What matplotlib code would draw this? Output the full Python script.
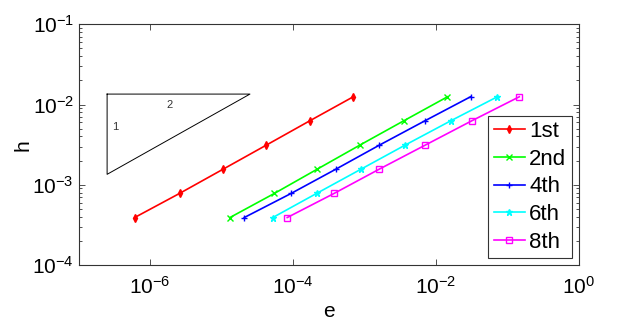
import numpy as np
import matplotlib
matplotlib.use("Agg")
import matplotlib.pyplot as plt
from matplotlib.ticker import LogLocator, FixedLocator, NullLocator, LogFormatterMathtext

plt.rcParams['font.family'] = ['Liberation Sans', 'DejaVu Sans']
plt.rcParams['mathtext.fontset'] = 'custom'
plt.rcParams['mathtext.rm'] = 'Liberation Sans'
plt.rcParams['mathtext.it'] = 'Liberation Sans'
plt.rcParams['mathtext.default'] = 'regular'

# grid spacing (same for every order)
h = [0.0125, 0.00625, 0.003125, 0.0015625, 0.00078125, 0.000390625]

# errors, largest h first
e_1st = [7.0e-4, 1.71e-4, 4.25e-5, 1.05e-5, 2.59e-6, 6.07e-7]
e_2nd = [1.46e-2, 3.54e-3, 8.67e-4, 2.18e-4, 5.51e-5, 1.31e-5]
e_4th = [3.07e-2, 7.0e-3, 1.63e-3, 3.98e-4, 9.46e-5, 2.08e-5]
e_6th = [7.29e-2, 1.61e-2, 3.73e-3, 8.95e-4, 2.15e-4, 5.22e-5]
e_8th = [1.48e-1, 3.17e-2, 7.14e-3, 1.61e-3, 3.78e-4, 8.32e-5]

labels = ['1st', '2nd', '4th', '6th', '8th']

# slope triangle
tri_e = [2.5e-7, 2.5e-5, 2.5e-7, 2.5e-7]
tri_h = [1.35e-2, 1.35e-2, 1.35e-3, 1.35e-2]

fig = plt.figure(figsize=(6.28, 3.24), dpi=100)
ax = fig.add_axes([0.1253, 0.182, 0.796, 0.743])

styles = [('#ff0000', 'd', 'full', 4), ('#00ff00', 'x', 'full', 4), ('#0000ff', '+', 'full', 5),
          ('#00ffff', '*', 'full', 5), ('#ff00ff', 's', 'none', 4.5)]
for e, lab, (c, m, fs, ms) in zip([e_1st, e_2nd, e_4th, e_6th, e_8th], labels, styles):
    ax.loglog(e, h, color=c, marker=m, markersize=ms, fillstyle=fs,
              markeredgewidth=1.0, linewidth=1.2, label=lab)

ax.plot(tri_e, tri_h, color='black', linewidth=0.7)
ax.text(1.87e-6, 9.9e-3, '2', fontsize=8, color='#333333', ha='center', va='center')
ax.text(3.3e-7, 5.2e-3, '1', fontsize=8, color='#333333', ha='center', va='center')

ax.set_xlim(1e-7, 1e0)
ax.set_ylim(1e-4, 1e-1)
ax.xaxis.set_major_locator(FixedLocator([1e-6, 1e-4, 1e-2, 1e0]))
ax.xaxis.set_minor_locator(NullLocator())
ax.xaxis.set_major_formatter(LogFormatterMathtext())
ax.yaxis.set_major_locator(LogLocator(base=10, numticks=10))
ax.yaxis.set_minor_locator(LogLocator(base=10, subs=np.arange(2, 10), numticks=10))

ax.tick_params(which='both', direction='in', top=True, right=True, labelsize=15, colors='#333333')
ax.tick_params(which='major', length=4, width=0.6)
ax.tick_params(which='minor', length=2.5, width=0.6)
ax.tick_params(axis='x', pad=8)
for tl in ax.get_xticklabels() + ax.get_yticklabels():
    tl.set_color('black')
for s in ax.spines.values():
    s.set_color('#333333')
    s.set_linewidth(0.8)

ax.set_xlabel('e', fontsize=15, labelpad=3)
ax.set_ylabel('h', fontsize=15, labelpad=0)

leg = ax.legend(loc='lower right', fontsize=16, handlelength=1.4, handletextpad=0.2,
                labelspacing=0.3, borderpad=0.25, borderaxespad=0.3, fancybox=False,
                framealpha=1, edgecolor='#333333')
leg.get_frame().set_linewidth(0.8)

fig.savefig('out.png', dpi=100)
